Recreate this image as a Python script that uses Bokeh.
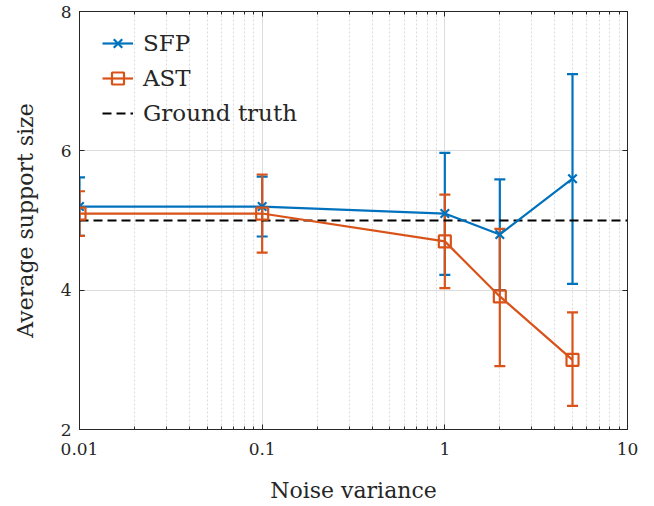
from bokeh.plotting import figure
from bokeh.models import (Range1d, FixedTicker, LogAxis, LinearAxis, Whisker, TeeHead,
                          ColumnDataSource, Legend, LegendItem, CustomJSTickFormatter)
from bokeh.embed import file_html
from bokeh.resources import INLINE

# ---- data ----
noise = [0.01, 0.1, 1, 2, 5]
sfp_mean = [5.2, 5.2, 5.1, 4.8, 5.6]
sfp_lower = [4.78, 4.77, 4.22, 4.0, 4.09]
sfp_upper = [5.62, 5.63, 5.97, 5.59, 7.1]
ast_mean = [5.1, 5.1, 4.7, 3.91, 3.0]
ast_lower = [4.78, 4.54, 4.03, 2.91, 2.34]
ast_upper = [5.42, 5.66, 5.37, 4.88, 3.68]
truth_x = [0.01, 10]
truth_y = [5, 5]
x_ticks = [0.01, 0.1, 1, 10]
x_tick_labels = ["0.01", "0.1", "1", "10"]
y_ticks = [2, 4, 6, 8]

BLUE = "#0072BD"
ORANGE = "#D95319"
TXT = "#262626"
FONT = "DejaVu Serif"
TICK_SIZE = "17px"
LABEL_SIZE = "22px"

p = figure(x_axis_type="log", x_range=Range1d(0.01, 10), y_range=Range1d(2, 8),
           frame_width=548, frame_height=418, output_backend="svg", toolbar_location=None,
           min_border_left=79, min_border_right=19, min_border_top=11, min_border_bottom=69)
p.outline_line_color = TXT
p.outline_line_width = 1

minor = [m * 10.0 ** k for k in range(-2, 1) for m in range(2, 10)]
xtick = FixedTicker(ticks=x_ticks, minor_ticks=minor)
ytick = FixedTicker(ticks=y_ticks, minor_ticks=[])
fmt = CustomJSTickFormatter(args=dict(tv=x_ticks, tl=x_tick_labels), code="""
const i = tv.findIndex(t => Math.abs(t - tick) < 1e-6 * t);
return i >= 0 ? tl[i] : tick.toString();
""")
blank = CustomJSTickFormatter(code="return ' ';")

def style_axis(ax, show_labels=True):
    ax.axis_line_color = TXT
    ax.major_tick_line_color = TXT
    ax.minor_tick_line_color = TXT
    ax.major_tick_in = 5
    ax.major_tick_out = 0
    ax.minor_tick_in = 3
    ax.minor_tick_out = 0
    ax.major_label_text_font = FONT
    ax.major_label_text_color = TXT
    ax.major_label_text_font_size = TICK_SIZE
    ax.axis_label_text_font = FONT
    ax.axis_label_text_color = TXT
    ax.axis_label_text_font_size = LABEL_SIZE
    ax.axis_label_text_font_style = "normal"
    if not show_labels:
        ax.formatter = blank
        ax.major_label_text_font_size = "1px"
        ax.major_label_standoff = 0

xa = p.xaxis[0]
xa.ticker = xtick
xa.formatter = fmt
style_axis(xa)
xa.axis_label = "Noise variance"
xa.major_label_standoff = 13
xa.axis_label_standoff = 20

ya = p.yaxis[0]
ya.ticker = ytick
style_axis(ya)
ya.axis_label = "Average support size"
ya.major_label_standoff = 8
ya.axis_label_standoff = 20

top = LogAxis(ticker=FixedTicker(ticks=x_ticks, minor_ticks=minor))
style_axis(top, False)
p.add_layout(top, "above")
right = LinearAxis(ticker=FixedTicker(ticks=y_ticks, minor_ticks=[]))
style_axis(right, False)
p.add_layout(right, "right")

p.xgrid.ticker = xtick
p.ygrid.ticker = ytick
p.xgrid.grid_line_color = "#dcdcdc"
p.ygrid.grid_line_color = "#dcdcdc"
p.xgrid.minor_grid_line_color = "#dadada"
p.xgrid.minor_grid_line_dash = "2 2"

# ground truth
gt = p.line(truth_x, truth_y, line_color="black", line_width=2, line_dash="9 5")

src_s = ColumnDataSource(dict(x=noise, y=sfp_mean, lo=sfp_lower, hi=sfp_upper))
src_a = ColumnDataSource(dict(x=noise, y=ast_mean, lo=ast_lower, hi=ast_upper))

for src, col in ((src_s, BLUE), (src_a, ORANGE)):
    w = Whisker(source=src, base="x", upper="hi", lower="lo", line_color=col, line_width=2.2,
                upper_head=TeeHead(size=11, line_color=col, line_width=2.2),
                lower_head=TeeHead(size=11, line_color=col, line_width=2.2))
    p.add_layout(w)

sl = p.line("x", "y", source=src_s, line_color=BLUE, line_width=2.2)
ss = p.scatter("x", "y", source=src_s, marker="x", size=12, line_color=BLUE, line_width=2.2)
al = p.line("x", "y", source=src_a, line_color=ORANGE, line_width=2.2)
asq = p.scatter("x", "y", source=src_a, marker="square", size=12, line_color=ORANGE,
                fill_color=None, line_width=2.2)

legend = Legend(items=[LegendItem(label="SFP", renderers=[sl, ss]),
                       LegendItem(label="AST", renderers=[al, asq]),
                       LegendItem(label="Ground truth", renderers=[gt])],
                location=(23, 301))
legend.background_fill_alpha = 0
legend.border_line_color = None
legend.label_text_font = FONT
legend.label_text_font_size = "23px"
legend.label_text_color = TXT
legend.glyph_width = 31
legend.glyph_height = 30
legend.label_height = 30
legend.spacing = 5
legend.padding = 0
legend.margin = 0
legend.label_standoff = 10
p.add_layout(legend)

open("out.html", "w").write(file_html(p, INLINE))
